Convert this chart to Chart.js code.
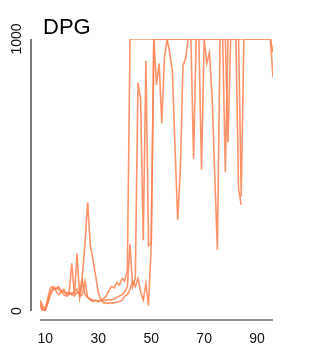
<!DOCTYPE html>
<html>
<head>
<meta charset="utf-8">
<script src="https://cdn.jsdelivr.net/npm/chart.js@4/dist/chart.umd.min.js"></script>
<style>
  html, body { margin: 0; padding: 0; background: #fff; }
  #wrap { width: 313px; height: 352px; position: relative; }
</style>
</head>
<body>
<div id="wrap"><canvas id="dpgChart"></canvas></div>
<script>
// Data (x = sample index 8..96)
const xs = [8,9,10,11,12,13,14,15,16,17,18,19,20,21,22,23,24,25,26,27,28,29,30,31,32,33,34,35,36,37,38,39,40,41,42,43,44,45,46,47,48,49,50,51,52,53,54,55,56,57,58,59,60,61,62,63,64,65,66,67,68,69,70,71,72,73,74,75,76,77,78,79,80,81,82,83,84,85,86,87,88,89,90,91,92,93,94,95,96];

const seriesA = [30,5,0,35,70,85,80,90,75,70,65,70,60,75,80,55,60,110,50,40,35,40,35,40,45,55,75,90,85,105,95,120,110,150,
  1000,1000,1000,1000,1000,1000,1000,1000,1000,1000,1000,1000,1000,1000,1000,1000,1000,1000,1000,1000,1000,1000,1000,1000,1000,1000,1000,
  1000,1000,1000,1000,1000,1000,1000,1000,1000,1000,1000,1000,1000,1000,1000,1000,1000,1000,1000,1000,1000,1000,1000,1000,1000,1000,1000,
  860];

const seriesB = [40,20,5,30,60,80,85,80,70,60,55,60,65,55,70,60,130,250,400,240,190,130,70,40,30,30,28,30,30,32,35,40,55,60,
  80,110,90,120,70,40,100,20,240,
  1000,1000,1000,1000,1000,1000,1000,1000,1000,1000,1000,1000,1000,1000,1000,1000,1000,1000,1000,1000,1000,1000,1000,1000,1000,1000,1000,1000,
  620,1000,1000,1000,1000,420,1000,1000,1000,1000,1000,1000,1000,1000,1000,1000,1000,950];

const seriesC = [20,0,10,50,85,90,75,60,70,80,60,65,175,60,210,50,110,60,50,45,40,38,35,40,38,40,42,40,45,50,55,60,70,90,
  245,90,120,840,780,260,920,240,250,1000,830,910,690,930,1000,950,880,600,335,520,900,930,1000,1000,560,1000,1000,520,
  1000,910,950,790,500,225,1000,1000,510,1000,1000,1000,1000,450,390,
  null,null,null,null,null,null,null,null,null,null,null,null];

const yTicks = [0, 1000];
const xTicks = [10, 30, 50, 70, 90];
const titleText = 'DPG';

const lineColor = 'rgba(255,128,80,0.85)';
const font = '"Liberation Sans", Arial, sans-serif';

function toPoints(ys) {
  return xs.map((x, i) => ({ x: x, y: ys[i] })).filter(p => p.y !== null);
}

// Axes drawn R-style, offset from the plot region
const axesPlugin = {
  id: 'rAxes',
  afterDraw(chart) {
    const c = chart.ctx;
    const xS = chart.scales.x, yS = chart.scales.y;
    c.save();
    c.strokeStyle = '#222';
    c.lineWidth = 1.2;
    // y axis line
    c.beginPath();
    c.moveTo(31, yS.getPixelForValue(1000));
    c.lineTo(31, yS.getPixelForValue(0));
    c.stroke();
    // x axis line
    c.beginPath();
    c.moveTo(xS.getPixelForValue(xs[0]), 320);
    c.lineTo(xS.getPixelForValue(xs[xs.length - 1]), 320);
    c.stroke();

    c.fillStyle = '#111';
    c.font = '14px ' + font;
    c.textAlign = 'center';
    c.textBaseline = 'middle';
    xTicks.forEach(t => c.fillText(String(t), xS.getPixelForValue(t), 339));
    yTicks.forEach(t => {
      c.save();
      c.translate(17, yS.getPixelForValue(t));
      c.rotate(-Math.PI / 2);
      c.fillText(String(t), 0, 0);
      c.restore();
    });

    // title
    c.font = '22px ' + font;
    c.textAlign = 'left';
    c.textBaseline = 'alphabetic';
    c.fillStyle = '#000';
    c.fillText(titleText, 43, 34);
    c.restore();
  }
};

new Chart(document.getElementById('dpgChart'), {
  type: 'line',
  data: {
    datasets: [seriesA, seriesB, seriesC].map(s => ({
      data: toPoints(s),
      borderColor: lineColor,
      borderWidth: 1.6,
      pointRadius: 0,
      tension: 0,
      fill: false
    }))
  },
  options: {
    responsive: true,
    maintainAspectRatio: false,
    animation: false,
    layout: { padding: { left: 40, right: 40, top: 39, bottom: 41 } },
    plugins: { legend: { display: false }, tooltip: { enabled: false } },
    scales: {
      x: { type: 'linear', min: xs[0], max: xs[xs.length - 1], display: false },
      y: { min: 0, max: 1000, display: false }
    }
  },
  plugins: [axesPlugin]
});
</script>
</body>
</html>
